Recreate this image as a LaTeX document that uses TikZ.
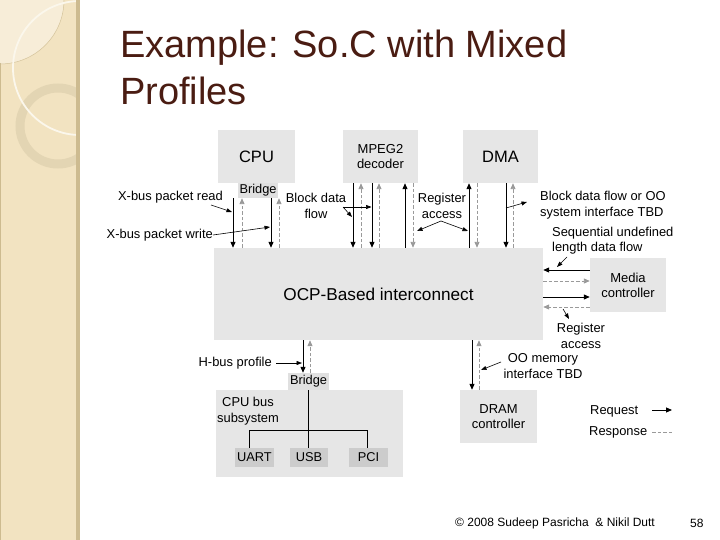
\documentclass[tikz,border=0pt]{standalone}
\usepackage{fontspec}
\setmainfont{Liberation Sans}
\usetikzlibrary{arrows.meta}
\definecolor{sidebar}{HTML}{F2E3C1}
\definecolor{sidelight}{HTML}{F7EDD8}
\definecolor{sideedge}{HTML}{CDBB90}
\definecolor{ringcol}{HTML}{E3D5B3}
\definecolor{titlecol}{HTML}{4A1C12}
\definecolor{boxgray}{HTML}{E6E6E6}
\definecolor{bridgegray}{HTML}{E0E0E0}
\definecolor{portgray}{HTML}{CCCCCC}
\definecolor{respgray}{HTML}{9A9A9A}
\tikzset{
  box/.style={fill=boxgray, inner sep=0pt, align=center, font=\fontsize{13}{15}\selectfont},
  bigtext/.style={font=\fontsize{16.5}{18}\selectfont},
  port/.style={fill=portgray, inner sep=0pt, font=\fontsize{12.8}{14}\selectfont},
  lbl/.style={inner sep=0pt, align=center, font=\fontsize{12.9}{15.5}\selectfont},
  req/.style={draw=black, line width=1pt, -{Triangle[length=6pt,width=5pt]}},
  resp/.style={draw=respgray, line width=0.9pt, dash pattern=on 3.5pt off 2pt, -{Triangle[length=6pt,width=5pt]}},
  lead/.style={draw=black, line width=0.6pt, -{Triangle[length=5.5pt,width=4pt]}},
}
\begin{document}
\begin{tikzpicture}[x=1pt,y=-1pt]
\useasboundingbox (0,0) rectangle (720,540);
% sidebar
\begin{scope}
  \clip (0,0) rectangle (78,540);
  \fill[sidebar] (0,0) rectangle (78,540);
  \fill[sidelight] (0,0) circle[radius=64pt];
  \draw[sideedge!80!sidebar, line width=0.5pt] (0,0) circle[radius=64pt];
  \draw[ringcol, line width=9pt] (58,126) circle[radius=38pt];
  \draw[white!70!sidebar, line width=1.8pt] (80,68) circle[radius=67pt];
  \draw[sideedge, line width=0.6pt] (0.3,63) -- (0.3,540);
\end{scope}
\fill[sideedge] (76,0) rectangle (79.5,540);
% title
\node[anchor=base west, inner sep=0pt, text=titlecol, font=\fontsize{38}{46}\selectfont] (title1) at (120,58) {Example: So.C with Mixed};
\node[anchor=base west, inner sep=0pt, text=titlecol, font=\fontsize{38}{46}\selectfont] (title2) at (120,105) {Profiles};
% boxes
\node[box, bigtext, minimum width=77pt, minimum height=53pt] (cpu) at (256.5,156.5) {CPU};
\node[box, minimum width=75pt, minimum height=53pt] (mpeg) at (380.5,156.5) {MPEG2\\decoder};
\node[box, bigtext, minimum width=75pt, minimum height=53pt] (dma) at (500.5,156.5) {DMA};
\node[box, fill=bridgegray, font=\fontsize{12.8}{14}\selectfont, minimum width=40pt, minimum height=15pt] (bridge1) at (258,190.5) {Bridge};
\node[box, font=\fontsize{17.2}{19}\selectfont, minimum width=329pt, minimum height=92pt] (ocp) at (378.5,294) {OCP-Based interconnect};
\node[box, minimum width=76pt, minimum height=54pt] (media) at (628,285) {Media\\controller};
\node[box, minimum width=187pt, minimum height=87pt] (sub) at (309.5,433.5) {};
\node[lbl] (subtxt) at (248,411) {CPU bus\\subsystem};
\node[box, fill=bridgegray, font=\fontsize{12.8}{14}\selectfont, minimum width=41pt, minimum height=17pt] (bridge2) at (308.5,381.5) {Bridge};
\node[port, minimum width=39pt, minimum height=19pt] (uart) at (254.5,457.5) {UART};
\node[port, minimum width=38pt, minimum height=19pt] (usb) at (309,457.5) {USB};
\node[port, minimum width=39pt, minimum height=19pt] (pci) at (368.5,457.5) {PCI};
\node[box, minimum width=77pt, minimum height=53pt] (dram) at (498.5,416.5) {DRAM\\controller};
% bus inside subsystem
\draw[line width=1.8pt] (bridge2.south) -- (bridge2.south |- usb.north);
\draw[line width=0.8pt] (249,0 |- uart.north) |- (367,430) -- (367,0 |- pci.north);
% CPU bridge <-> OCP
\draw[req]  (233,0 |- bridge1.south) -- (233,0 |- ocp.north);
\draw[resp] (242,0 |- ocp.north) -- (242,0 |- bridge1.south);
\draw[req]  (271,0 |- bridge1.south) -- (271,0 |- ocp.north);
\draw[resp] (279,0 |- ocp.north) -- (279,0 |- bridge1.south);
% MPEG2 <-> OCP
\draw[req]  (353,0 |- mpeg.south) -- (353,0 |- ocp.north);
\draw[resp] (361,0 |- ocp.north) -- (361,0 |- mpeg.south);
\draw[req]  (372,0 |- mpeg.south) -- (372,0 |- ocp.north);
\draw[resp] (379,0 |- ocp.north) -- (379,0 |- mpeg.south);
\draw[req]  (405,0 |- ocp.north) -- (405,0 |- mpeg.south);
\draw[resp] (413,0 |- mpeg.south) -- (413,0 |- ocp.north);
% DMA <-> OCP
\draw[req]  (469,0 |- ocp.north) -- (469,0 |- dma.south);
\draw[resp] (477,0 |- dma.south) -- (477,0 |- ocp.north);
\draw[req]  (506,0 |- dma.south) -- (506,0 |- ocp.north);
\draw[resp] (513,0 |- ocp.north) -- (513,0 |- dma.south);
% Media <-> OCP
\draw[req]  (media.west |- 0,270) -- (ocp.east |- 0,270);
\draw[resp] (ocp.east |- 0,281) -- (media.west |- 0,281);
\draw[req]  (ocp.east |- 0,297) -- (media.west |- 0,297);
\draw[resp] (media.west |- 0,307) -- (ocp.east |- 0,307);
% OCP <-> bottom
\draw[req]  (303,0 |- ocp.south) -- (303,0 |- bridge2.north);
\draw[resp] (310,0 |- bridge2.north) -- (310,0 |- ocp.south);
\draw[req]  (472,0 |- ocp.south) -- (472,0 |- dram.north);
\draw[resp] (479,0 |- dram.north) -- (479,0 |- ocp.south);
% labels
\node[lbl, anchor=east] (xread) at (223,197) {X-bus packet read};
\coordinate (xreadtip) at (232,212);
\draw[lead] (211,205) -- (xreadtip);
\node[lbl, anchor=east] (xwrite) at (213,235) {X-bus packet write};
\coordinate (xwritetip) at (270,227);
\draw[lead] (xwrite.east) -- (xwritetip);
\node[lbl] (blockdata) at (316,206) {Block data\\flow};
\coordinate (bd0) at (343,207);
\coordinate (bdtip1) at (352,217);
\coordinate (bdtip2) at (371.5,207);
\draw[lead] (bd0) -- (bdtip1);
\draw[lead] (bd0) -- (bdtip2);
\node[lbl] (regacc) at (442,206) {Register\\access};
\coordinate (ra0) at (441,221);
\coordinate (ratip1) at (417,231);
\coordinate (ratip2) at (468,231);
\draw[lead] (ra0) -- (ratip1);
\draw[lead] (ra0) -- (ratip2);
\coordinate (dma0) at (506,208);
\node[lbl, anchor=west, align=left] (dmatxt) at (540,205) {Block data flow or OO\\system interface TBD};
\draw[lead] (dma0) -- (527,202);
\node[lbl, anchor=west, align=left] (seq) at (552,240.5) {Sequential undefined\\length data flow};
\coordinate (seq0) at (567,257);
\coordinate (seqtip) at (557,267);
\draw[lead] (seq0) -- (seqtip);
\node[lbl] (regacc2) at (581,336) {Register\\access};
\coordinate (rb0) at (563,309);
\coordinate (rbtip) at (569,319);
\draw[lead] (rb0) -- (rbtip);
\node[lbl, anchor=east] (hbus) at (272,363) {H-bus profile};
\coordinate (hbustip) at (302,363);
\draw[lead] ([xshift=4pt]hbus.east) -- (hbustip);
\node[lbl] (oomem) at (543,366) {OO memory\\interface TBD};
\coordinate (oo0) at (501,362);
\coordinate (ootip) at (481,370);
\draw[lead] (oo0) -- (ootip);
% legend
\node[lbl, anchor=west] (reqtxt) at (590,411) {Request};
\coordinate (lr1) at (672,410);
\draw[req] ([xshift=14pt]reqtxt.east |- lr1) -- (lr1);
\node[lbl, anchor=west] (resptxt) at (589,432) {Response};
\coordinate (ls1) at (672,432);
\draw[draw=respgray, line width=0.9pt, dash pattern=on 3.5pt off 2pt] ([xshift=5pt]resptxt.east |- ls1) -- (ls1);
% footer
\node[anchor=west, inner sep=0pt, font=\fontsize{12}{14}\selectfont] (foot) at (455,523) {© 2008 Sudeep Pasricha\ \ \& Nikil Dutt};
\node[anchor=west, inner sep=0pt, font=\fontsize{12}{14}\selectfont] (page) at (690,523) {58};
\end{tikzpicture}
\end{document}
